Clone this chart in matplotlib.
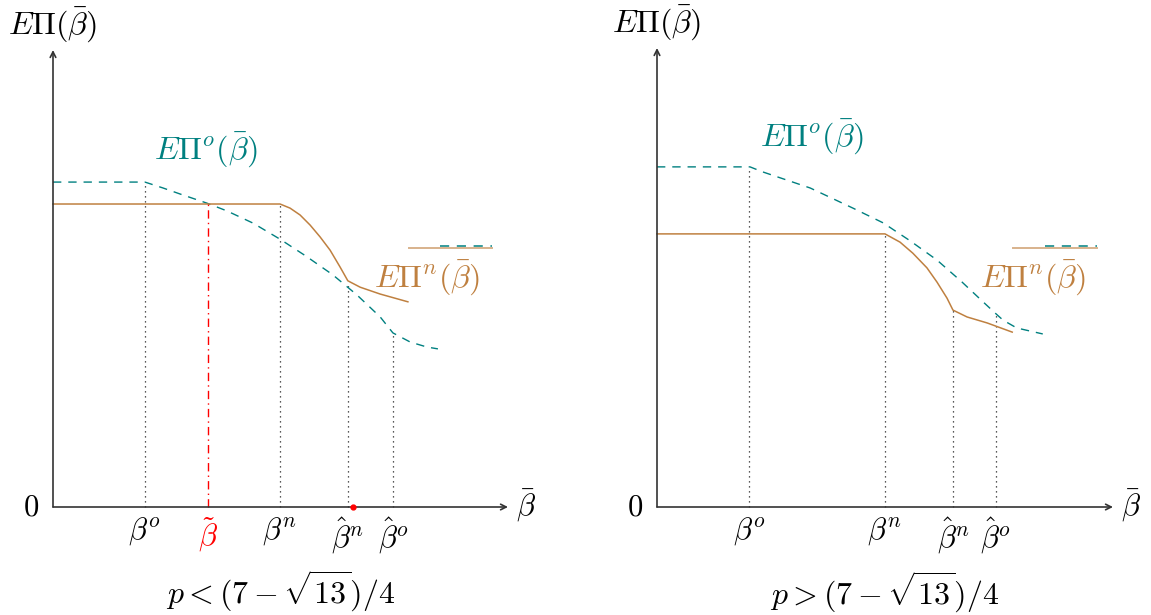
import numpy as np
import matplotlib.pyplot as plt

plt.rcParams["mathtext.fontset"] = "cm"
plt.rcParams["font.family"] = "serif"
plt.rcParams["font.serif"] = ["DejaVu Serif"]

TEAL = "#008080"
BROWN = "#BF8040"
AXIS = "#333333"

# Left panel: p < (7 - sqrt(13))/4
left_teal_x = [0, 2.02, 2.42, 2.79, 3.38, 3.82, 4.40, 4.99, 5.56, 6.15, 6.68, 7.19, 7.47, 7.85, 8.22, 8.46]
left_teal_y = [7.11, 7.11, 6.98, 6.85, 6.65, 6.48, 6.21, 5.86, 5.49, 5.08, 4.64, 4.16, 3.81, 3.61, 3.50, 3.46]
left_brown_x = [0, 4.99, 5.21, 5.43, 5.65, 5.87, 6.09, 6.31, 6.48, 6.75, 7.19, 7.80]
left_brown_y = [6.63, 6.63, 6.54, 6.39, 6.17, 5.91, 5.62, 5.25, 4.95, 4.81, 4.66, 4.49]
left_ticks_x = [2.02, 4.99, 6.48, 7.47]
left_ticks_top = [7.11, 6.63, 4.92, 3.81]
left_tick_labels = [r"$\beta^o$", r"$\beta^n$", r"$\hat{\beta}^n$", r"$\hat{\beta}^o$"]
left_tilde_x = 3.41
left_tilde_top = 6.63
left_dot_x = 6.59

# Right panel: p > (7 - sqrt(13))/4
right_teal_x = [0, 2.04, 2.32, 3.36, 4.30, 4.96, 5.55, 6.14, 6.69, 7.15, 7.41, 7.59, 7.89, 8.46]
right_teal_y = [7.41, 7.41, 7.30, 6.95, 6.51, 6.19, 5.80, 5.38, 4.90, 4.47, 4.23, 4.07, 3.90, 3.77]
right_brown_x = [0, 5.0, 5.33, 5.61, 5.92, 6.14, 6.36, 6.49, 6.80, 7.24, 7.79]
right_brown_y = [5.95, 5.95, 5.77, 5.53, 5.21, 4.90, 4.55, 4.29, 4.14, 4.01, 3.81]
right_ticks_x = [2.02, 5.0, 6.49, 7.43]
right_ticks_top = [7.41, 5.95, 4.29, 4.20]
right_tick_labels = [r"$\beta^o$", r"$\beta^n$", r"$\hat{\beta}^n$", r"$\hat{\beta}^o$"]

W, H = 1151, 615
fig = plt.figure(figsize=(W / 100, H / 100), dpi=100)


def panel(rect, teal_x, teal_y, brown_x, brown_y, ticks_x, ticks_top, tick_labels,
          label_o, label_n, stray, caption):
    ax = fig.add_axes(rect)
    ax.set_xlim(0, 10)
    ax.set_ylim(0, 10)
    ax.axis("off")

    # axes with arrows
    ax.annotate("", xy=(10, 0), xytext=(0, 0), annotation_clip=False,
                arrowprops=dict(arrowstyle="->", color=AXIS, lw=1.2, shrinkA=0, shrinkB=0))
    ax.annotate("", xy=(0, 10), xytext=(0, 0), annotation_clip=False,
                arrowprops=dict(arrowstyle="->", color=AXIS, lw=1.2, shrinkA=0, shrinkB=0))

    # dotted guides
    for x, top in zip(ticks_x, ticks_top):
        ax.plot([x, x], [0, top], color="#222222", lw=0.9, ls=(0, (1, 3)), clip_on=False)

    ax.plot(teal_x, teal_y, color=TEAL, lw=1.0, ls=(0, (6, 5)), clip_on=False)
    ax.plot(brown_x, brown_y, color=BROWN, lw=1.1, clip_on=False)

    # stray overline next to the label
    ax.plot([stray[0], stray[1]], [stray[2], stray[2]], color=BROWN, lw=1.4,
            alpha=0.6, clip_on=False)
    ax.plot([stray[3], stray[1]], [stray[4], stray[4]], color=TEAL, lw=1.1,
            ls=(0, (6, 5)), clip_on=False)

    for x, lab in zip(ticks_x, tick_labels):
        ax.annotate(lab, (x, 0), xytext=(0, -6), textcoords="offset points",
                    ha="center", va="top", fontsize=22)

    ax.annotate(r"$0$", (0, 0), xytext=(-10, 0), textcoords="offset points",
                ha="right", va="center", fontsize=22)
    ax.annotate(r"$\bar{\beta}$", (10, 0), xytext=(6, 1), textcoords="offset points",
                ha="left", va="center", fontsize=22)
    ax.annotate(r"$E\Pi(\bar{\beta})$", (0, 10), xytext=(0, 4), textcoords="offset points",
                ha="center", va="bottom", fontsize=23)

    ax.text(label_o[0], label_o[1], r"$E\Pi^o(\bar{\beta})$", color=TEAL,
            ha="center", va="center", fontsize=23)
    ax.text(label_n[0], label_n[1], r"$E\Pi^n(\bar{\beta})$", color=BROWN,
            ha="center", va="center", fontsize=23)

    ax.text(5.0, -1.85, caption, ha="center", va="center", fontsize=23)
    return ax


axl = panel([53 / W, 108 / H, 455 / W, 457 / H], left_teal_x, left_teal_y,
            left_brown_x, left_brown_y, left_ticks_x, left_ticks_top, left_tick_labels,
            (3.36, 7.81), (8.22, 5.01), (7.82, 9.65, 5.67, 8.51, 5.71),
            r"$p < (7-\sqrt{13})/4$")

# beta tilde
axl.plot([left_tilde_x, left_tilde_x], [0, left_tilde_top], color="red", lw=1.0,
         ls=(0, (6, 3, 1, 3)), clip_on=False)
axl.annotate(r"$\tilde{\beta}$", (left_tilde_x, 0), xytext=(0, -6), textcoords="offset points",
             ha="center", va="top", fontsize=22, color="red")
axl.plot([left_dot_x], [0], "o", color="red", ms=3.5, clip_on=False, zorder=5)

axr = panel([657 / W, 108 / H, 456 / W, 459 / H], right_teal_x, right_teal_y,
            right_brown_x, right_brown_y, right_ticks_x, right_ticks_top, right_tick_labels,
            (3.40, 8.06), (8.25, 4.99), (7.81, 9.65, 5.64, 8.51, 5.69),
            r"$p > (7-\sqrt{13})/4$")

fig.savefig("out.png", dpi=100)
